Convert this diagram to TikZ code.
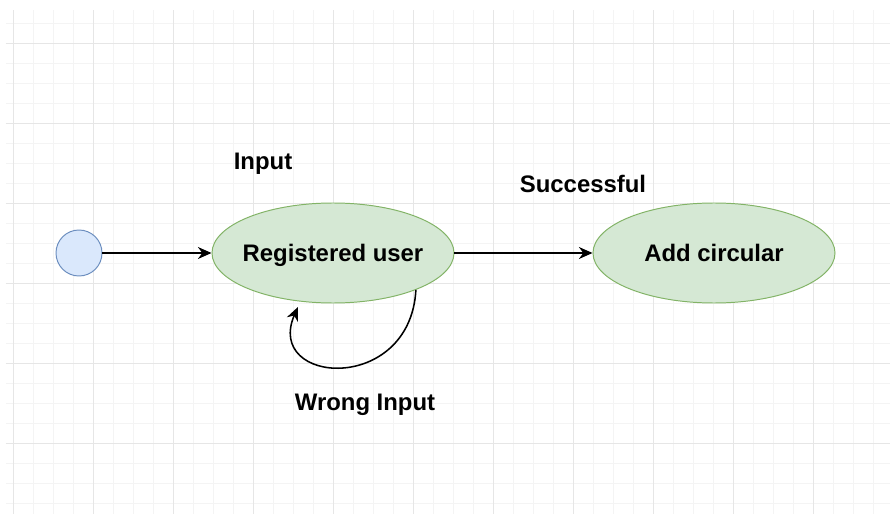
\documentclass[tikz,border=0pt]{standalone}
\usepackage{fontspec}
\setmainfont{Liberation Sans}
\usepackage{tikz}
\usetikzlibrary{shapes.geometric, arrows.meta, positioning}
\usepackage{xcolor}
\definecolor{statoFill}{HTML}{D5E8D4}
\definecolor{statoDraw}{HTML}{82B366}
\definecolor{inizioFill}{HTML}{DAE8FC}
\definecolor{inizioDraw}{HTML}{6C8EBF}
\definecolor{grigliaMin}{HTML}{F4F4F4}
\definecolor{grigliaMag}{HTML}{E6E6E6}
\newcommand{\testo}{\fontsize{17}{20}\selectfont\bfseries}

\begin{document}
\begin{tikzpicture}[x = 0.5cm, y = 0.5cm,
    stato/.style = {ellipse, draw = statoDraw, fill = statoFill, line width = 0.7pt,
        minimum width = 6.05cm, minimum height = 2.5cm, inner sep = 0pt, inner xsep = -4mm,
        text depth = 0pt, font = \testo},
    inizio/.style = {circle, draw = inizioDraw, fill = inizioFill, line width = 0.7pt, minimum size = 1.15cm},
    etichetta/.style = {inner sep = 0pt, font = \testo},
    freccia/.style = {-{Stealth[length = 3.4mm, width = 3mm]}, line width = 1.1pt}]
    % Bordi
    \useasboundingbox (0,0) rectangle (44.5,-25.7);
    
    % Griglia
    \draw[grigliaMin, line width = 0.7pt, step = 1, shift = {(0.65,-0.15)}] (-0.35,-0.35) grid (43.85,-25.55);
    \draw[grigliaMag, line width = 0.7pt, step = 4, shift = {(0.65,-2.15)}] (-0.35,1.65) grid (43.85,-23.55);
    
    % Stati
    \node[inizio] (init) at (3.95,-12.65) {};
    \node[stato] (reg) at (16.65,-12.65) {Registered user};
    \node[stato] (add) at (35.7,-12.65) {Add circular};
    
    % Etichette
    \node[etichetta] (lblInput) at (13.15,-8.2) {Input};
    \node[etichetta] (lblOk) at (29.15,-9.2) {Successful};
    \node[etichetta] (lblWrong) at (18.25,-20.25) {Wrong Input};
    
    % Transizioni
    \draw[freccia] (init) -- (reg);
    \draw[freccia] (reg) -- (add);
    % anello su reg
    \draw[freccia, shorten >= 1.5mm] (reg.-24) .. controls (20.5,-19.75) and (13.2,-19.25) .. (reg.-124);
\end{tikzpicture}
\end{document}
